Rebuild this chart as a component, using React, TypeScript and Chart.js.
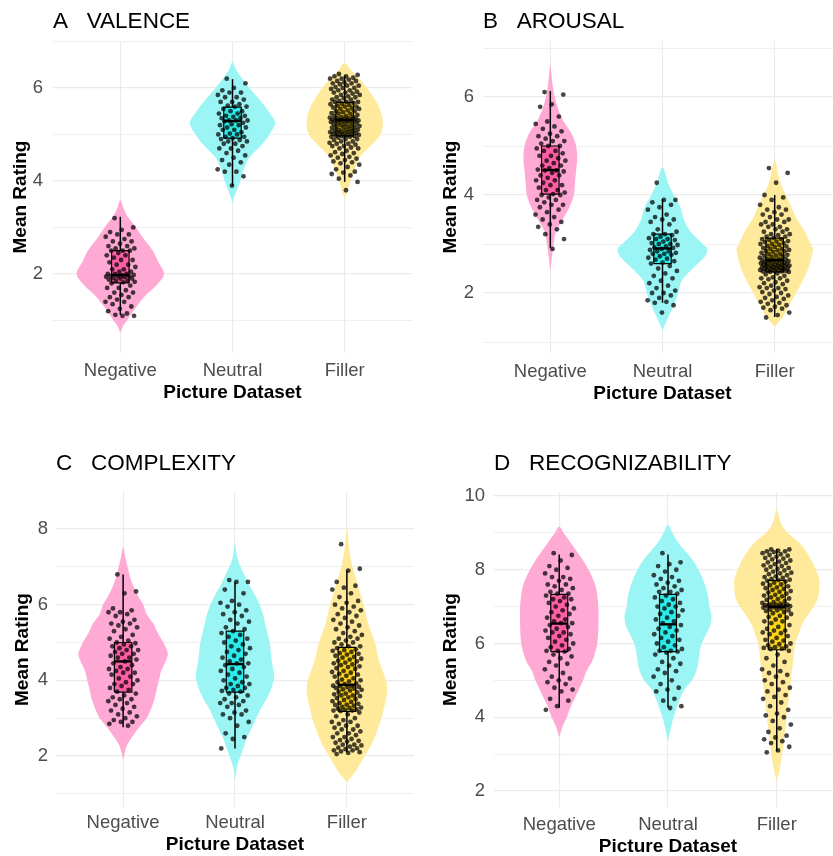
import React, { useEffect, useRef } from 'react';
import { Chart, registerables } from 'chart.js';

Chart.register(...registerables);

const FONT = '"Liberation Sans", Arial, Helvetica, sans-serif';
Chart.defaults.font.family = FONT;

const CATEGORIES = ['Negative', 'Neutral', 'Filler'];
const CATEGORY_POS = [1, 2, 3];
const X_TITLE = 'Picture Dataset';
const Y_TITLE = 'Mean Rating';

const VIOLIN_COLORS = ['#FFAAD5', '#9BF5F5', '#FFEA9C'];
const BOX_COLORS = ['#FF5FA6', '#2DEBEB', '#FFD51A'];

// ---------- A VALENCE ----------
const A_TITLE = 'A   VALENCE';
const A_Y_GRID = [1, 2, 3, 4, 5, 6, 7];
const A_Y_LABELS = [2, 4, 6];
const A_NEG_VIOLIN: [number, number][] = [[0.73,0],[0.9,0.03],[1.0,0.06],[1.25,0.13],[1.5,0.21],[1.75,0.32],[2.0,0.39],[2.25,0.34],[2.5,0.29],[2.75,0.21],[3.0,0.14],[3.25,0.06],[3.4,0.03],[3.59,0]];
const A_NEU_VIOLIN: [number, number][] = [[3.53,0],[3.75,0.03],[4.0,0.07],[4.25,0.1],[4.5,0.15],[4.75,0.25],[5.0,0.33],[5.25,0.38],[5.5,0.32],[5.75,0.24],[6.0,0.15],[6.25,0.07],[6.4,0.03],[6.56,0]];
const A_FIL_VIOLIN: [number, number][] = [[3.63,0],[3.75,0.02],[4.0,0.05],[4.25,0.09],[4.5,0.13],[4.75,0.23],[5.0,0.32],[5.25,0.34],[5.5,0.32],[5.75,0.27],[6.0,0.2],[6.25,0.11],[6.4,0.05],[6.54,0]];
const A_BOXES = [[1.12,1.81,1.98,2.5,3.23],[3.9,4.92,5.29,5.59,6.19],[3.98,4.97,5.31,5.69,6.27]];
const A_NEG_PTS = [3.2,3.0,2.95,2.9,2.85,2.85,2.8,2.75,2.7,2.7,2.65,2.6,2.6,2.55,2.55,2.5,2.5,2.5,2.45,2.4,2.4,2.35,2.3,2.3,2.25,2.2,2.2,2.15,2.1,2.1,2.05,2.05,2.0,2.0,2.0,1.98,1.97,1.96,1.95,1.95,1.94,1.93,1.92,1.9,1.9,1.88,1.85,1.85,1.83,1.82,1.8,1.75,1.7,1.7,1.65,1.6,1.6,1.55,1.5,1.5,1.45,1.4,1.4,1.35,1.3,1.25,1.2,1.15,1.12,1.1,1.1];
const A_NEU_PTS = [6.2,6.1,6.0,5.95,5.9,5.9,5.85,5.8,5.8,5.75,5.7,5.7,5.65,5.62,5.6,5.6,5.55,5.5,5.5,5.45,5.45,5.4,5.4,5.38,5.35,5.35,5.3,5.3,5.3,5.28,5.25,5.22,5.2,5.2,5.15,5.15,5.1,5.1,5.05,5.02,5.0,5.0,4.95,4.95,4.92,4.9,4.88,4.85,4.85,4.8,4.8,4.75,4.7,4.7,4.65,4.6,4.55,4.5,4.45,4.4,4.35,4.25,4.2,4.2,4.1,3.9];
const A_FIL_PTS = [6.3,6.28,6.25,6.25,6.22,6.2,6.2,6.18,6.15,6.15,6.12,6.1,6.1,6.08,6.05,6.05,6.02,6.0,6.0,5.98,5.95,5.95,5.92,5.9,5.9,5.88,5.85,5.85,5.82,5.8,5.8,5.78,5.75,5.75,5.72,5.7,5.7,5.7,
  5.68,5.66,5.65,5.63,5.62,5.6,5.6,5.58,5.56,5.55,5.55,5.52,5.5,5.5,5.48,5.46,5.45,5.45,5.42,5.4,5.4,5.38,5.37,5.36,5.35,5.35,5.34,5.33,5.32,5.32,5.31,5.3,5.3,5.3,5.29,5.28,5.27,
  5.26,5.25,5.24,5.23,5.22,5.2,5.2,5.18,5.17,5.16,5.15,5.15,5.14,5.12,5.1,5.1,5.09,5.08,5.07,5.06,5.05,5.05,5.04,5.03,5.02,5.01,5.0,5.0,4.99,4.98,4.97,4.96,4.96,4.95,4.95,
  4.93,4.9,4.9,4.88,4.85,4.85,4.82,4.8,4.8,4.78,4.75,4.75,4.72,4.7,4.7,4.65,4.62,4.6,4.58,4.55,4.52,4.5,4.48,4.45,4.42,4.4,4.38,4.35,4.3,4.25,4.2,4.18,4.15,4.12,4.05,3.98,3.8];

// ---------- B AROUSAL ----------
const B_TITLE = 'B   AROUSAL';
const B_Y_GRID = [1, 2, 3, 4, 5, 6, 7];
const B_Y_LABELS = [2, 4, 6];
const B_NEG_VIOLIN: [number, number][] = [[2.43,0],[2.75,0.015],[3.0,0.03],[3.25,0.05],[3.5,0.11],[3.75,0.17],[4.0,0.21],[4.25,0.22],[4.5,0.23],[4.75,0.24],[5.0,0.23],[5.25,0.19],[5.5,0.12],[5.75,0.07],[6.0,0.04],[6.25,0.02],[6.65,0]];
const B_NEU_VIOLIN: [number, number][] = [[1.24,0],[1.5,0.05],[1.75,0.1],[2.0,0.14],[2.25,0.17],[2.5,0.27],[2.75,0.38],[2.9,0.4],[3.0,0.36],[3.25,0.25],[3.5,0.19],[3.75,0.16],[4.0,0.1],[4.25,0.05],[4.57,0]];
const B_FIL_VIOLIN: [number, number][] = [[1.31,0],[1.5,0.07],[1.75,0.13],[2.0,0.19],[2.25,0.25],[2.5,0.3],[2.75,0.33],[2.9,0.34],[3.0,0.32],[3.25,0.27],[3.5,0.2],[3.75,0.15],[4.0,0.1],[4.25,0.05],[4.71,0]];
const B_BOXES = [[2.92,4.02,4.51,5.0,6.12],[1.8,2.6,2.91,3.2,3.92],[1.51,2.43,2.67,3.12,4.0]];
const B_NEG_PTS = [6.1,6.05,5.85,5.8,5.6,5.5,5.45,5.4,5.35,5.3,5.25,5.2,5.2,5.15,5.1,5.1,5.05,5.0,5.0,4.95,4.9,4.9,4.85,4.8,4.8,4.75,4.7,4.7,4.65,4.6,4.6,4.55,4.52,4.5,4.5,4.48,4.45,4.4,4.4,4.35,4.3,4.3,4.25,4.2,4.2,4.15,4.1,4.1,4.05,4.02,4.0,4.0,3.95,3.9,3.9,3.85,3.8,3.8,3.75,3.7,3.65,3.6,3.55,3.5,3.45,3.4,3.35,3.3,3.2,3.1,2.9];
const B_NEU_PTS = [4.25,3.9,3.9,3.85,3.8,3.75,3.7,3.6,3.55,3.5,3.5,3.45,3.4,3.3,3.25,3.2,3.2,3.18,3.15,3.12,3.1,3.1,3.08,3.05,3.02,3.0,3.0,2.98,2.95,2.93,2.92,2.9,2.88,2.85,2.85,2.82,2.8,2.8,2.78,2.75,2.72,2.7,2.68,2.65,2.62,2.6,2.55,2.5,2.45,2.4,2.35,2.3,2.25,2.2,2.15,2.1,2.05,2.0,2.0,1.95,1.9,1.85,1.82,1.8,1.75,1.6];
const B_FIL_PTS = [4.55,4.45,4.25,4.0,3.95,3.9,3.8,3.75,3.7,3.7,3.65,3.6,3.6,3.55,3.5,3.5,3.45,3.45,3.4,3.4,3.35,3.35,3.3,3.3,3.25,3.25,3.2,3.2,3.18,3.15,3.15,3.12,
  3.1,3.1,3.08,3.06,3.05,3.04,3.02,3.0,3.0,2.98,2.96,2.95,2.94,2.92,2.9,2.9,2.88,2.87,2.86,2.85,2.84,2.82,2.8,2.8,2.78,2.77,2.76,2.75,2.74,2.72,2.7,2.7,2.69,2.68,2.67,2.67,
  2.66,2.65,2.64,2.63,2.62,2.62,2.61,2.6,2.6,2.59,2.58,2.58,2.57,2.56,2.56,2.55,2.55,2.54,2.53,2.53,2.52,2.51,2.5,2.5,2.5,2.49,2.48,2.47,2.47,2.46,2.45,2.45,2.44,2.44,2.43,2.43,
  2.4,2.38,2.35,2.32,2.3,2.3,2.28,2.25,2.22,2.2,2.18,2.15,2.12,2.1,2.1,2.08,2.05,2.02,2.0,1.98,1.95,1.92,1.9,1.88,1.85,1.82,1.8,1.78,1.75,1.72,1.7,1.68,1.65,1.6,1.55,1.5];

// ---------- C COMPLEXITY ----------
const C_TITLE = 'C   COMPLEXITY';
const C_Y_GRID = [1, 2, 3, 4, 5, 6, 7, 8];
const C_Y_LABELS = [2, 4, 6, 8];
const C_NEG_VIOLIN: [number, number][] = [[1.89,0],[2.25,0.03],[2.5,0.08],[2.75,0.14],[3.0,0.21],[3.25,0.25],[3.5,0.28],[3.75,0.3],[4.0,0.32],[4.25,0.34],[4.5,0.38],[4.7,0.4],[5.0,0.36],[5.25,0.31],[5.5,0.27],[5.75,0.21],[6.0,0.18],[6.25,0.13],[6.5,0.09],[6.75,0.06],[7.0,0.04],[7.25,0.02],[7.52,0]];
const C_NEU_VIOLIN: [number, number][] = [[1.36,0],[1.75,0.02],[2.0,0.05],[2.25,0.08],[2.5,0.11],[2.75,0.15],[3.0,0.19],[3.25,0.23],[3.5,0.28],[3.75,0.32],[4.1,0.35],[4.5,0.33],[4.75,0.32],[5.0,0.31],[5.25,0.29],[5.5,0.27],[5.75,0.25],[6.0,0.22],[6.25,0.18],[6.5,0.13],[6.75,0.09],[7.0,0.05],[7.25,0.02],[7.62,0]];
const C_FIL_VIOLIN: [number, number][] = [[1.3,0],[1.45,0.04],[1.6,0.08],[1.8,0.12],[2.0,0.16],[2.25,0.21],[2.5,0.25],[2.75,0.28],[3.0,0.31],[3.25,0.33],[3.5,0.35],[3.75,0.36],[4.0,0.35],[4.25,0.32],[4.5,0.29],[4.75,0.27],[5.0,0.25],[5.5,0.19],[6.0,0.15],[6.5,0.1],[7.0,0.05],[7.5,0.02],[8.02,0]];
const C_BOXES = [[2.76,3.69,4.5,5.0,6.8],[2.2,3.69,4.43,5.3,6.6],[2.1,3.18,3.88,4.87,6.9]];
const C_NEG_PTS = [6.8,6.35,6.3,5.9,5.85,5.8,5.8,5.75,5.7,5.6,5.55,5.5,5.5,5.45,5.4,5.35,5.3,5.2,5.15,5.1,5.05,5.0,4.98,4.95,4.9,4.9,4.85,4.8,4.8,4.75,4.7,4.7,4.65,4.6,4.6,4.55,4.5,4.45,4.4,4.35,4.3,4.3,4.25,4.2,4.2,4.15,4.1,4.05,4.0,3.95,3.9,3.9,3.85,3.8,3.75,3.7,3.65,3.6,3.55,3.5,3.5,3.45,3.4,3.35,3.3,3.25,3.2,3.15,3.1,3.05,3.0,2.95,2.9,2.9,2.85,2.8];
const C_NEU_PTS = [6.65,6.6,6.6,6.4,6.3,6.1,6.05,6.0,5.95,5.85,5.8,5.75,5.7,5.6,5.55,5.5,5.4,5.35,5.3,5.25,5.2,5.15,5.1,5.05,5.0,4.95,4.9,4.85,4.8,4.75,4.7,4.65,4.6,4.55,4.5,4.45,4.45,4.4,4.35,4.3,4.25,4.2,4.15,4.1,4.05,4.0,3.95,3.9,3.9,3.85,3.8,3.8,3.75,3.72,3.7,3.65,3.6,3.55,3.5,3.45,3.4,3.4,3.35,3.3,3.2,3.15,3.1,3.1,3.0,2.9,2.8,2.6,2.5,2.45,2.2];
const C_FIL_PTS = [7.6,6.95,6.9,6.6,6.5,6.45,6.4,6.3,6.2,6.1,6.05,6.0,5.95,5.9,5.85,5.8,5.75,5.7,5.65,5.6,5.55,5.5,5.45,5.4,5.35,5.3,5.25,5.2,5.15,5.1,5.1,5.05,5.0,5.0,4.95,4.9,4.9,
  4.85,4.82,4.8,4.78,4.75,4.72,4.7,4.68,4.65,4.62,4.6,4.57,4.55,4.52,4.5,4.47,4.45,4.42,4.4,4.37,4.35,4.32,4.3,4.25,4.22,4.2,4.17,4.15,4.12,4.1,4.05,4.02,4.0,3.97,3.95,3.92,3.9,
  3.86,3.85,3.85,3.83,3.82,3.8,3.78,3.76,3.75,3.73,3.7,3.68,3.65,3.63,3.6,3.6,3.58,3.55,3.53,3.5,3.48,3.45,3.43,3.4,3.38,3.36,3.35,3.33,3.3,3.28,3.27,3.25,3.23,3.22,3.2,3.2,3.19,
  3.15,3.1,3.05,3.0,2.95,2.9,2.9,2.85,2.8,2.8,2.75,2.7,2.7,2.65,2.6,2.6,2.55,2.5,2.5,2.45,2.42,2.4,2.38,2.35,2.3,2.3,2.28,2.25,2.22,2.2,2.18,2.15,2.15,2.12,2.1,2.08,2.05];

// ---------- D RECOGNIZABILITY ----------
const D_TITLE = 'D   RECOGNIZABILITY';
const D_Y_GRID = [2, 3, 4, 5, 6, 7, 8, 9, 10];
const D_Y_LABELS = [2, 4, 6, 8, 10];
const D_NEG_VIOLIN: [number, number][] = [[3.45,0],[3.75,0.03],[4.0,0.07],[4.25,0.1],[4.5,0.14],[4.75,0.18],[5.0,0.22],[5.25,0.25],[5.5,0.3],[5.75,0.33],[6.0,0.35],[6.5,0.36],[7.0,0.36],[7.5,0.34],[7.75,0.31],[8.0,0.27],[8.25,0.22],[8.5,0.16],[8.75,0.1],[9.0,0.04],[9.17,0]];
const D_NEU_VIOLIN: [number, number][] = [[3.34,0],[3.75,0.03],[4.0,0.05],[4.25,0.08],[4.5,0.11],[4.75,0.15],[5.0,0.22],[5.25,0.26],[5.5,0.28],[5.75,0.29],[6.0,0.31],[6.25,0.35],[6.5,0.39],[6.75,0.4],[7.0,0.38],[7.25,0.37],[7.5,0.35],[7.75,0.32],[8.0,0.28],[8.25,0.23],[8.5,0.16],[8.75,0.09],[9.0,0.04],[9.22,0]];
const D_FIL_VIOLIN: [number, number][] = [[2.26,0],[2.5,0.02],[3.0,0.05],[3.5,0.07],[4.0,0.09],[4.5,0.11],[5.0,0.13],[5.5,0.15],[6.0,0.17],[6.25,0.2],[6.5,0.23],[6.75,0.28],[7.0,0.34],[7.25,0.38],[7.5,0.39],[7.75,0.39],[8.0,0.36],[8.25,0.32],[8.5,0.27],[8.75,0.2],[9.0,0.1],[9.25,0.04],[9.63,0]];
const D_BOXES = [[4.26,5.78,6.54,7.33,8.41],[4.26,5.78,6.52,7.33,8.41],[3.08,5.83,6.99,7.71,8.56]];
const D_NEG_PTS = [8.45,8.4,8.25,8.1,8.05,8.0,7.9,7.8,7.8,7.75,7.7,7.6,7.6,7.55,7.5,7.45,7.4,7.35,7.35,7.3,7.25,7.2,7.2,7.15,7.1,7.05,7.0,6.95,6.9,6.85,6.8,6.75,6.7,6.65,6.6,6.55,6.55,6.5,6.45,6.4,6.35,6.3,6.3,6.25,6.2,6.15,6.1,6.05,6.0,5.95,5.9,5.85,5.8,5.8,5.78,5.7,5.65,5.6,5.5,5.45,5.4,5.3,5.2,5.1,5.05,5.0,4.95,4.9,4.8,4.75,4.7,4.5,4.45,4.3,4.2];
const D_NEU_PTS = [8.45,8.2,8.15,8.1,8.0,7.95,7.85,7.8,7.75,7.7,7.65,7.6,7.55,7.5,7.45,7.4,7.4,7.35,7.3,7.25,7.2,7.15,7.1,7.05,7.0,7.0,6.95,6.9,6.85,6.8,6.75,6.7,6.65,6.6,6.55,6.5,6.45,6.4,6.35,6.3,6.25,6.2,6.15,6.1,6.05,6.0,5.95,5.9,5.85,5.8,5.8,5.78,5.75,5.7,5.6,5.5,5.45,5.4,5.3,5.25,5.2,5.1,5.0,4.9,4.8,4.75,4.7,4.5,4.45,4.3,4.25];
const D_FIL_PTS = [8.55,8.55,8.52,8.5,8.5,8.48,8.45,8.42,8.4,8.38,8.35,8.32,8.3,8.28,8.25,8.22,8.2,8.18,8.15,8.12,8.1,8.08,8.05,8.02,8.0,7.98,7.95,7.92,7.9,7.88,7.85,7.82,7.8,7.78,7.75,7.73,7.72,
  7.7,7.68,7.65,7.62,7.6,7.58,7.55,7.52,7.5,7.48,7.45,7.42,7.4,7.38,7.35,7.32,7.3,7.28,7.25,7.22,7.2,7.18,7.15,7.12,7.1,7.08,7.06,7.05,7.05,7.04,7.03,7.02,7.01,7.0,7.0,7.0,6.98,
  6.97,6.95,6.92,6.9,6.9,6.88,6.85,6.82,6.8,6.75,6.72,6.7,6.65,6.6,6.6,6.55,6.5,6.45,6.4,6.35,6.35,6.3,6.28,6.25,6.2,6.15,6.1,6.08,6.05,6.0,5.98,5.95,5.92,5.9,5.88,5.86,5.85,
  5.8,5.7,5.6,5.5,5.4,5.3,5.25,5.2,5.15,5.1,5.0,4.95,4.9,4.8,4.75,4.7,4.6,4.55,4.5,4.4,4.3,4.2,4.1,4.05,4.0,3.9,3.8,3.7,3.6,3.5,3.45,3.4,3.35,3.3,3.2,3.1,3.05];

type Profile = [number, number][];
type PanelSpec = {
  title: string;
  left: number; top: number; width: number; height: number;
  area: { l: number; t: number; r: number; b: number };
  yMin: number; yMax: number; yGrid: number[]; yLabels: number[];
  yTitleX: number; yTickPad: number; xTickPad: number; xTitlePad: number; titleBaseline: number;
  violins: Profile[]; boxes: number[][]; points: number[][];
};

const PANELS: PanelSpec[] = [
  { title: A_TITLE, left: 0, top: 0, width: 416, height: 430, area: { l: 53, t: 41, r: 416, b: 353 },
    yMin: 0.3, yMax: 7.01, yGrid: A_Y_GRID, yLabels: A_Y_LABELS, yTitleX: 21, yTickPad: 10, xTickPad: 7, xTitlePad: 1, titleBaseline: 28,
    violins: [A_NEG_VIOLIN, A_NEU_VIOLIN, A_FIL_VIOLIN], boxes: A_BOXES, points: [A_NEG_PTS, A_NEU_PTS, A_FIL_PTS] },
  { title: B_TITLE, left: 416, top: 0, width: 430, height: 430, area: { l: 67, t: 41, r: 430, b: 353 },
    yMin: 0.776, yMax: 7.143, yGrid: B_Y_GRID, yLabels: B_Y_LABELS, yTitleX: 35, yTickPad: 9, xTickPad: 8, xTitlePad: 0, titleBaseline: 28,
    violins: [B_NEG_VIOLIN, B_NEU_VIOLIN, B_FIL_VIOLIN], boxes: B_BOXES, points: [B_NEG_PTS, B_NEU_PTS, B_FIL_PTS] },
  { title: C_TITLE, left: 0, top: 430, width: 418, height: 440, area: { l: 56, t: 62, r: 418, b: 377 },
    yMin: 0.652, yMax: 8.978, yGrid: C_Y_GRID, yLabels: C_Y_LABELS, yTitleX: 23, yTickPad: 8, xTickPad: 5, xTitlePad: 3, titleBaseline: 40,
    violins: [C_NEG_VIOLIN, C_NEU_VIOLIN, C_FIL_VIOLIN], boxes: C_BOXES, points: [C_NEG_PTS, C_NEU_PTS, C_FIL_PTS] },
  { title: D_TITLE, left: 416, top: 430, width: 430, height: 440, area: { l: 78, t: 62, r: 430, b: 377 },
    yMin: 1.566, yMax: 10.108, yGrid: D_Y_GRID, yLabels: D_Y_LABELS, yTitleX: 35, yTickPad: 9, xTickPad: 7, xTitlePad: 1, titleBaseline: 40,
    violins: [D_NEG_VIOLIN, D_NEU_VIOLIN, D_FIL_VIOLIN], boxes: D_BOXES, points: [D_NEG_PTS, D_NEU_PTS, D_FIL_PTS] },
];

const BOX_HALF = 0.078;
const X_AXIS_H = 52;
const TICK_SIZE = 18.5;
const AXIS_TITLE_SIZE = 19;
const PANEL_TITLE_SIZE = 22.5;
const TITLE_HALF_LINE = (AXIS_TITLE_SIZE * 1.2) / 2;

// horizontal spread of the jittered points (presentation only)
const jitter = (i: number) => ((((i * 0.6180339887 + 0.31) % 1) - 0.5) * 0.27);

const titlePlugin = {
  id: 'panelTitle',
  afterDraw(chart: any, _args: any, opts: any) {
    const ctx = chart.ctx;
    ctx.save();
    ctx.font = `${PANEL_TITLE_SIZE}px ${FONT}`;
    ctx.fillStyle = '#000';
    ctx.textAlign = 'left';
    ctx.textBaseline = 'alphabetic';
    ctx.fillText(opts.text, chart.chartArea.left, opts.baseline);
    ctx.restore();
  },
};

function buildConfig(p: PanelSpec): any {
  const datasets: any[] = [];
  p.violins.forEach((prof, gi) => {
    const c = CATEGORY_POS[gi];
    const leftSide = prof.map(([y, w]) => ({ x: c - w, y }));
    const rightSide = prof.slice(0, -1).reverse().map(([y, w]) => ({ x: c + w, y }));
    datasets.push({
      type: 'line', data: [...leftSide, ...rightSide], showLine: true, fill: 'shape',
      backgroundColor: VIOLIN_COLORS[gi], borderColor: 'rgba(0,0,0,0)', borderWidth: 0,
      pointRadius: 0, tension: 0.3, order: 4,
    });
  });
  p.boxes.forEach(([mn, q1, md, q3, mx], gi) => {
    const c = CATEGORY_POS[gi];
    datasets.push({
      type: 'line', data: [{ x: c, y: mn }, { x: c, y: mx }], showLine: true, fill: false,
      borderColor: '#000', borderWidth: 1.5, pointRadius: 0, order: 3,
    });
    datasets.push({
      type: 'line',
      data: [{ x: c - BOX_HALF, y: q1 }, { x: c + BOX_HALF, y: q1 }, { x: c + BOX_HALF, y: q3 }, { x: c - BOX_HALF, y: q3 }, { x: c - BOX_HALF, y: q1 }],
      showLine: true, fill: 'shape', backgroundColor: BOX_COLORS[gi], borderColor: '#000', borderWidth: 1.2,
      pointRadius: 0, tension: 0, order: 2,
    });
    datasets.push({
      type: 'line', data: [{ x: c - BOX_HALF, y: md }, { x: c + BOX_HALF, y: md }], showLine: true, fill: false,
      borderColor: '#000', borderWidth: 2.4, pointRadius: 0, order: 1,
    });
  });
  p.points.forEach((vals, gi) => {
    const c = CATEGORY_POS[gi];
    datasets.push({
      type: 'scatter', data: vals.map((y, i) => ({ x: c + jitter(i), y })), showLine: false,
      pointRadius: 2.4, pointStyle: 'circle', pointBackgroundColor: 'rgba(0,0,0,0.72)', pointBorderWidth: 0,
      pointBorderColor: 'rgba(0,0,0,0)', order: 0,
    });
  });

  const a = p.area;
  return {
    type: 'scatter',
    data: { datasets },
    plugins: [titlePlugin],
    options: {
      responsive: false,
      animation: false,
      devicePixelRatio: 1,
      events: [],
      layout: { padding: { left: 0, top: a.t, right: p.width - a.r, bottom: p.height - a.b - X_AXIS_H } },
      plugins: {
        legend: { display: false },
        tooltip: { enabled: false },
        panelTitle: { text: p.title, baseline: p.titleBaseline },
      },
      scales: {
        x: {
          type: 'linear', min: 0.4, max: 3.6,
          afterBuildTicks: (s: any) => { s.ticks = CATEGORY_POS.map((v) => ({ value: v })); },
          afterFit: (s: any) => { s.height = X_AXIS_H; },
          ticks: {
            callback: (v: number) => CATEGORIES[CATEGORY_POS.indexOf(v)] ?? '',
            font: { family: FONT, size: TICK_SIZE }, color: '#4D4D4D', padding: p.xTickPad,
            autoSkip: false, maxRotation: 0, minRotation: 0,
          },
          grid: { color: '#EBEBEB', lineWidth: 1.1, drawTicks: false },
          border: { display: false },
          title: {
            display: true, text: X_TITLE, color: '#000',
            font: { family: FONT, size: AXIS_TITLE_SIZE, weight: 'bold' },
            padding: { top: 0, bottom: p.xTitlePad - 0.3 },
          },
        },
        y: {
          type: 'linear', min: p.yMin, max: p.yMax,
          afterBuildTicks: (s: any) => { s.ticks = p.yGrid.map((v) => ({ value: v })); },
          afterFit: (s: any) => { s.width = a.l; },
          ticks: {
            callback: (v: number) => (p.yLabels.includes(v) ? String(v) : ''),
            font: { family: FONT, size: TICK_SIZE }, color: '#4D4D4D', padding: p.yTickPad,
          },
          grid: {
            color: '#EBEBEB',
            lineWidth: (ctx: any) => (ctx.tick && p.yLabels.includes(ctx.tick.value) ? 1.2 : 0.8),
            drawTicks: false,
          },
          border: { display: false },
          title: {
            display: true, text: Y_TITLE, color: '#000',
            font: { family: FONT, size: AXIS_TITLE_SIZE, weight: 'bold' },
            padding: { top: p.yTitleX - TITLE_HALF_LINE, bottom: 0 },
          },
        },
      },
    },
  };
}

function Panel({ spec }: { spec: PanelSpec }) {
  const ref = useRef<HTMLCanvasElement | null>(null);
  useEffect(() => {
    if (!ref.current) return;
    const chart = new Chart(ref.current, buildConfig(spec));
    return () => chart.destroy();
  }, [spec]);
  return (
    <div style={{ position: 'absolute', left: spec.left, top: spec.top, width: spec.width, height: spec.height }}>
      <canvas ref={ref} width={spec.width} height={spec.height} style={{ display: 'block', width: spec.width, height: spec.height }} />
    </div>
  );
}

export default function App() {
  return (
    <div style={{ position: 'absolute', left: 0, top: 0, width: 833, height: 856, overflow: 'hidden', background: '#fff' }}>
      {PANELS.map((p) => (
        <Panel key={p.title} spec={p} />
      ))}
    </div>
  );
}
